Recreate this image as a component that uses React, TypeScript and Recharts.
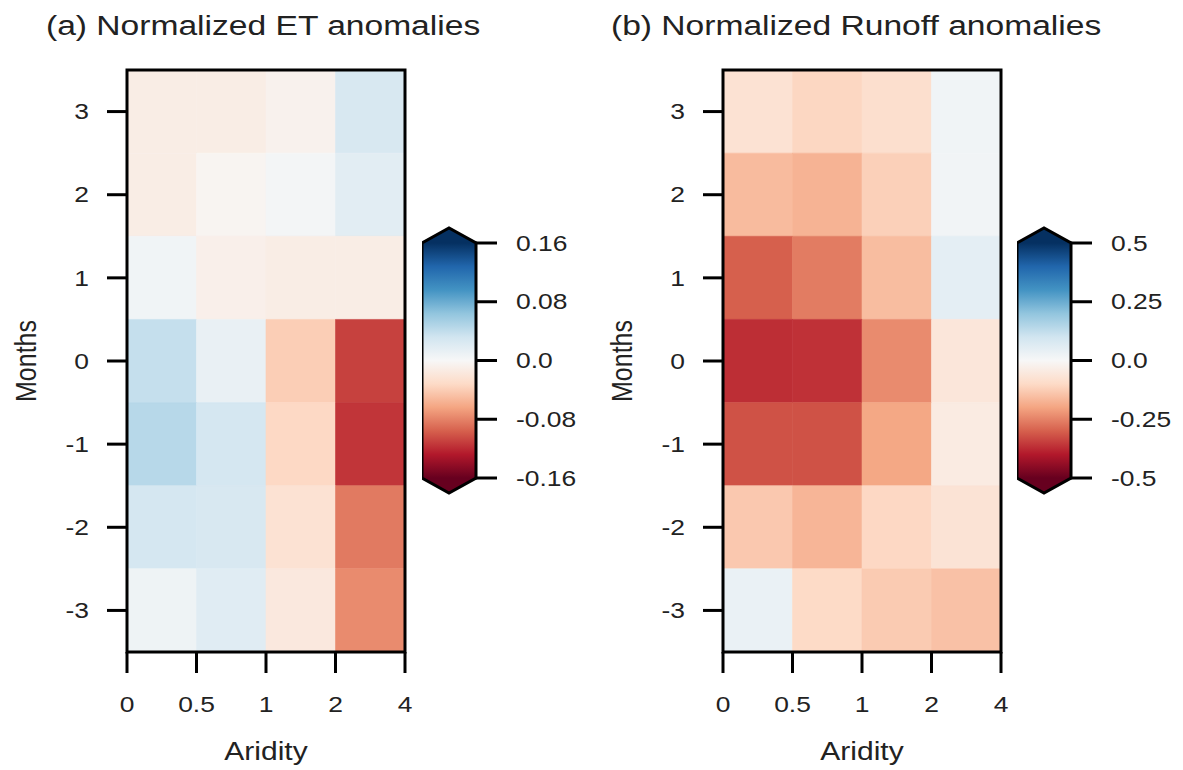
import React from 'react';
import { ScatterChart, Scatter, XAxis, YAxis, ReferenceArea } from 'recharts';

// Lag in months relative to the event, top row first
const months = [3, 2, 1, 0, -1, -2, -3];
// Aridity class edges along the x axis
const aridityEdges = ['0', '0.5', '1', '2', '4'];

// Normalized ET anomalies, one row per month, one value per aridity class
const etAnomaly = [
  [-0.012, -0.012, -0.007, 0.026],
  [-0.012, -0.004, 0.003, 0.018],
  [0.006, -0.009, -0.012, -0.012],
  [0.038, 0.012, -0.040, -0.110],
  [0.045, 0.029, -0.033, -0.115],
  [0.029, 0.026, -0.024, -0.084],
  [0.008, 0.019, -0.017, -0.076],
];

// Normalized runoff anomalies, same layout
const runoffAnomaly = [
  [-0.075, -0.107, -0.085, 0.018],
  [-0.160, -0.174, -0.120, 0.015],
  [-0.300, -0.260, -0.156, 0.050],
  [-0.370, -0.365, -0.237, -0.061],
  [-0.320, -0.320, -0.195, -0.043],
  [-0.135, -0.170, -0.105, -0.070],
  [0.035, -0.100, -0.130, -0.148],
];

const etTicks = [0.16, 0.08, 0, -0.08, -0.16];
const etTickLabels = ['0.16', '0.08', '0.0', '-0.08', '-0.16'];
const runoffTicks = [0.5, 0.25, 0, -0.25, -0.5];
const runoffTickLabels = ['0.5', '0.25', '0.0', '-0.25', '-0.5'];

// ColorBrewer RdBu, red (low) to blue (high)
const RDBU = ['#67001f', '#b2182b', '#d6604d', '#f4a582', '#fddbc7', '#f7f7f7',
  '#d1e5f0', '#92c5de', '#4393c3', '#2166ac', '#053061'];

const FONT = '"Liberation Sans", Arial, Helvetica, sans-serif';
const TEXT = '#222';
const STRETCH = 1.2;
const TICK = { stroke: '#000', strokeWidth: 3 };

const hexToRgb = (h: string) => [1, 3, 5].map((i) => parseInt(h.slice(i, i + 2), 16));

function rdbu(t: number) {
  const c = Math.min(1, Math.max(0, t)) * 10;
  const i = Math.min(9, Math.floor(c));
  const f = c - i;
  const a = hexToRgb(RDBU[i]);
  const b = hexToRgb(RDBU[i + 1]);
  const rgb = a.map((v, k) => Math.round(v + (b[k] - v) * f));
  return `rgb(${rgb.join(',')})`;
}

const tickText = (x: number, y: number, label: string, anchor: string, dy: string) => (
  <text
    transform={`translate(${x},${y}) scale(${STRETCH},1)`}
    textAnchor={anchor}
    dy={dy}
    fontSize={22}
    fontFamily={FONT}
    fill={TEXT}
  >
    {label}
  </text>
);

const noMarker = () => <g />;

const HEIGHT = 770;
const PLOT_TOP = 70;
const PLOT_BOTTOM = 652;

function HeatPanel({ values, vmax, left }: { values: number[][]; vmax: number; left: number }) {
  const centers = months.flatMap((m, r) => values[r].map((v, c) => ({ x: c + 0.5, y: m, v })));
  return (
    <div style={{ position: 'absolute', left, top: 0 }}>
      <ScatterChart
        width={420}
        height={HEIGHT}
        margin={{ top: PLOT_TOP, right: 15, bottom: 0, left: 0 }}
      >
        <XAxis
          type="number"
          dataKey="x"
          domain={[0, 4]}
          ticks={[0, 1, 2, 3, 4]}
          height={HEIGHT - PLOT_BOTTOM}
          axisLine={false}
          tickLine={TICK}
          tickSize={21}
          tickMargin={23}
          tick={(p: any) => tickText(p.x, p.y, aridityEdges[p.payload.value], 'middle', '0.71em')}
        />
        <YAxis
          type="number"
          dataKey="y"
          domain={[-3.5, 3.5]}
          ticks={months}
          width={127}
          axisLine={false}
          tickLine={TICK}
          tickSize={20}
          tickMargin={18}
          tick={(p: any) => tickText(p.x, p.y, String(p.payload.value), 'end', '0.35em')}
        />
        <Scatter data={centers} shape={noMarker} isAnimationActive={false} />
        {centers.map((d, i) => {
          const col = rdbu((d.v + vmax) / (2 * vmax));
          return (
            <ReferenceArea
              key={i}
              x1={d.x - 0.5}
              x2={d.x + 0.5}
              y1={d.y - 0.5}
              y2={d.y + 0.5}
              fill={col}
              fillOpacity={1}
              stroke={col}
              strokeWidth={0.6}
            />
          );
        })}
        <ReferenceArea x1={0} x2={4} y1={-3.5} y2={3.5} fill="none" stroke="#000" strokeWidth={3} />
      </ScatterChart>
    </div>
  );
}

// Colorbar with triangular extensions at both ends
function ColorBar({ ticks, labels, vmax, left, id }: {
  ticks: number[]; labels: string[]; vmax: number; left: number; id: string;
}) {
  const tip = 15;
  const barShape = (p: any) => {
    const { x, y, width, height } = p;
    const H = height + 2 * tip;
    const path = `M${x},${y} L${x + width / 2},${y - tip} L${x + width},${y} L${x + width},${y + height} ` +
      `L${x + width / 2},${y + height + tip} L${x},${y + height} Z`;
    const stops = RDBU.map((c, k) => ({ offset: (tip + (1 - k / 10) * height) / H, c })).reverse();
    return (
      <g>
        <defs>
          <linearGradient id={id} x1="0" y1="0" x2="0" y2="1">
            <stop offset={0} stopColor={RDBU[10]} />
            {stops.map((s, k) => <stop key={k} offset={s.offset} stopColor={s.c} />)}
            <stop offset={1} stopColor={RDBU[0]} />
          </linearGradient>
        </defs>
        <path d={path} fill={`url(#${id})`} stroke="#000" strokeWidth={3} strokeLinejoin="miter" />
      </g>
    );
  };
  const tickPoints = ticks.map((t) => ({ x: 0.5, y: t }));
  return (
    <div style={{ position: 'absolute', left, top: 0 }}>
      <ScatterChart
        width={180}
        height={HEIGHT}
        margin={{ top: 243, right: 0, bottom: HEIGHT - 478, left: 0 }}
      >
        <XAxis type="number" dataKey="x" domain={[0, 1]} hide />
        <YAxis
          type="number"
          dataKey="y"
          orientation="right"
          domain={[-vmax, vmax]}
          ticks={ticks}
          width={126}
          axisLine={false}
          tickLine={TICK}
          tickSize={21}
          tickMargin={19}
          tick={(p: any) => tickText(p.x, p.y, labels[ticks.indexOf(p.payload.value)], 'start', '0.35em')}
        />
        <Scatter data={tickPoints} shape={noMarker} isAnimationActive={false} />
        <ReferenceArea x1={0} x2={1} y1={-vmax} y2={vmax} shape={barShape} />
      </ScatterChart>
    </div>
  );
}

export default function App() {
  return (
    <div style={{ position: 'absolute', left: 0, top: 0, width: 1183, height: HEIGHT, background: '#fff', fontFamily: FONT }}>
      <HeatPanel values={etAnomaly} vmax={0.16} left={0} />
      <ColorBar ticks={etTicks} labels={etTickLabels} vmax={0.16} left={422} id="cbEt" />
      <HeatPanel values={runoffAnomaly} vmax={0.5} left={596} />
      <ColorBar ticks={runoffTicks} labels={runoffTickLabels} vmax={0.5} left={1017} id="cbRunoff" />
      <svg width={1183} height={HEIGHT} style={{ position: 'absolute', left: 0, top: 0, pointerEvents: 'none' }}>
        <g fontFamily={FONT} fill={TEXT}>
          <text transform={`translate(46,35) scale(${STRETCH},1)`} fontSize={28}>(a) Normalized ET anomalies</text>
          <text transform={`translate(611,35) scale(${STRETCH},1)`} fontSize={28}>(b) Normalized Runoff anomalies</text>
          <text transform={`translate(266,760) scale(${STRETCH},1)`} fontSize={25} textAnchor="middle">Aridity</text>
          <text transform={`translate(862,760) scale(${STRETCH},1)`} fontSize={25} textAnchor="middle">Aridity</text>
          <text transform={`translate(36,361) scale(${STRETCH},1) rotate(-90)`} fontSize={25} textAnchor="middle">Months</text>
          <text transform={`translate(632,361) scale(${STRETCH},1) rotate(-90)`} fontSize={25} textAnchor="middle">Months</text>
        </g>
      </svg>
    </div>
  );
}
